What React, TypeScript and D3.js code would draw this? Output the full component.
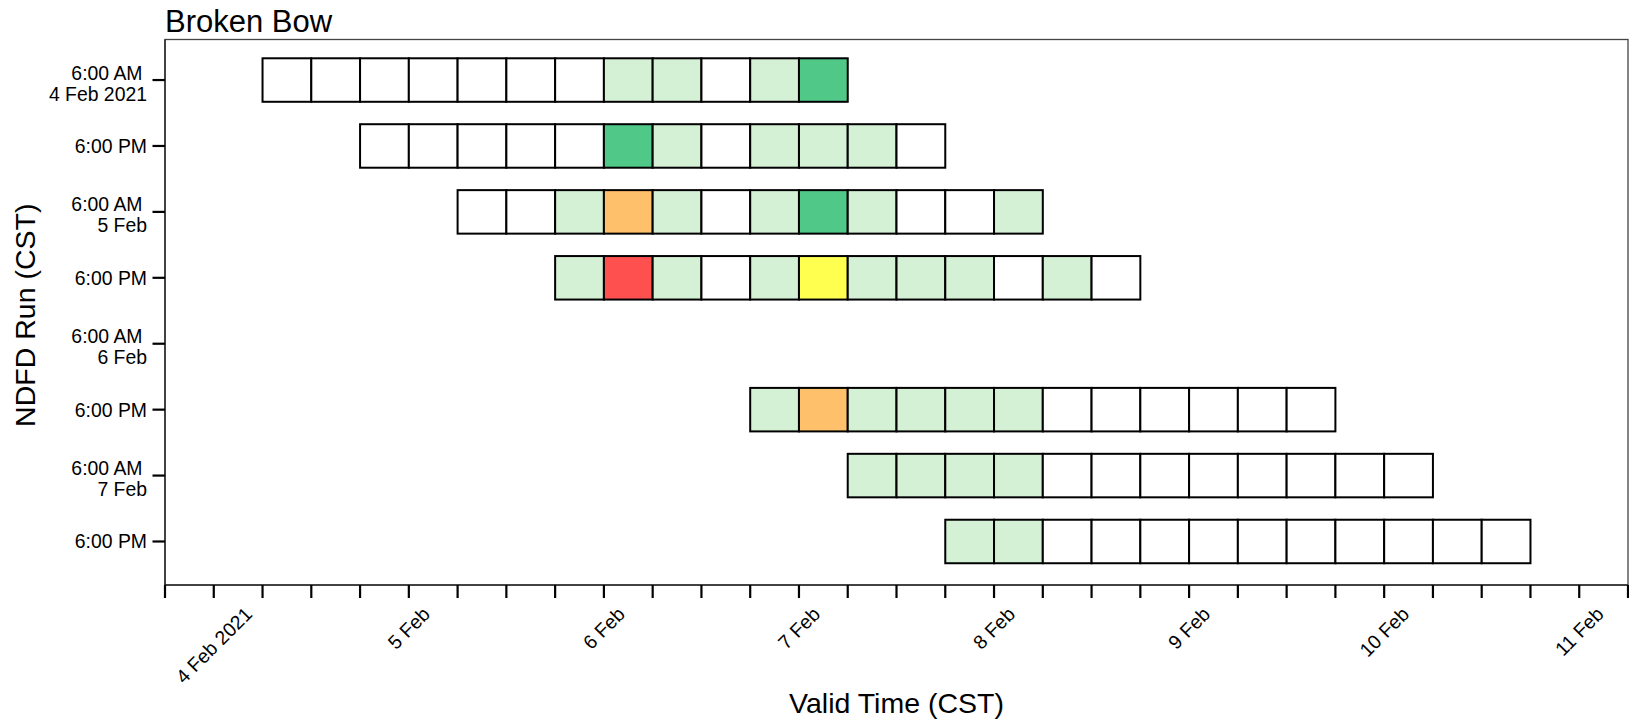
import React from "react";
import * as d3 from "d3";

const title = "Broken Bow";
const xTitle = "Valid Time (CST)";
const yTitle = "NDFD Run (CST)";

const runTimes = [
  "2021-02-04 06:00",
  "2021-02-04 18:00",
  "2021-02-05 06:00",
  "2021-02-05 18:00",
  "2021-02-06 06:00",
  "2021-02-06 18:00",
  "2021-02-07 06:00",
  "2021-02-07 18:00",
];
const runLabels = [
  ["6:00 AM", "4 Feb 2021"],
  ["6:00 PM"],
  ["6:00 AM", "5 Feb"],
  ["6:00 PM"],
  ["6:00 AM", "6 Feb"],
  ["6:00 PM"],
  ["6:00 AM", "7 Feb"],
  ["6:00 PM"],
];
// category per 6-hour valid period, beginning at the run time
// 0 none, 1 light green, 2 green, 3 yellow, 4 orange, 5 red
const run0 = [0, 0, 0, 0, 0, 0, 0, 1, 1, 0, 1, 2];
const run1 = [0, 0, 0, 0, 0, 2, 1, 0, 1, 1, 1, 0];
const run2 = [0, 0, 1, 4, 1, 0, 1, 2, 1, 0, 0, 1];
const run3 = [1, 5, 1, 0, 1, 3, 1, 1, 1, 0, 1, 0];
const run4: number[] = [];
const run5 = [1, 4, 1, 1, 1, 1, 0, 0, 0, 0, 0, 0];
const run6 = [1, 1, 1, 1, 0, 0, 0, 0, 0, 0, 0, 0];
const run7 = [1, 1, 0, 0, 0, 0, 0, 0, 0, 0, 0, 0];
const runCategories = [run0, run1, run2, run3, run4, run5, run6, run7];

const categoryColors = ["#ffffff", "#d4f0d5", "#50c887", "#ffff4f", "#ffc06b", "#ff5050"];

const xDomain = ["2021-02-03 18:00", "2021-02-11 06:00"];
const xTickLabelDates = [
  "2021-02-04 00:00",
  "2021-02-05 00:00",
  "2021-02-06 00:00",
  "2021-02-07 00:00",
  "2021-02-08 00:00",
  "2021-02-09 00:00",
  "2021-02-10 00:00",
  "2021-02-11 00:00",
];
const xTickLabels = ["4 Feb 2021", "5 Feb", "6 Feb", "7 Feb", "8 Feb", "9 Feb", "10 Feb", "11 Feb"];

const parse = d3.timeParse("%Y-%m-%d %H:%M");
const FONT = "'Liberation Sans', Arial, Helvetica, sans-serif";

let measureCtx: CanvasRenderingContext2D | null = null;
function measure(text: string, size: number) {
  if (!measureCtx) {
    const c = document.createElement("canvas");
    measureCtx = c.getContext("2d");
  }
  if (!measureCtx) return text.length * size * 0.55;
  measureCtx.font = `${size}px ${FONT}`;
  return measureCtx.measureText(text).width;
}

export default function App() {
  const W = 1629;
  const H = 725;
  const left = 165;
  const right = 1628;
  const top = 39.5;
  const bottom = 585;

  const x = d3
    .scaleTime()
    .domain(xDomain.map((d) => parse(d) as Date))
    .range([left, right]);
  const y = d3.scaleLinear().domain([-0.615, 7.66]).range([top, bottom]);

  const runs = runTimes.map((d) => parse(d) as Date);
  const ticks = d3.timeHour.every(6)!.range(x.domain()[0], d3.timeHour.offset(x.domain()[1], 1));

  const boxH = 43.5;
  const fs = 19.4;

  return (
    <svg
      width={W}
      height={H}
      style={{ position: "absolute", left: 0, top: 0, background: "#fff" }}
      fontFamily={FONT}
    >
      <text x={165} y={32} fontSize={31} fill="#000">
        {title}
      </text>
      {/* frame */}
      <rect x={left} y={top} width={right - left} height={bottom - top} fill="none" stroke="#444" strokeWidth={1.3} />
      <line x1={left} x2={left} y1={top} y2={bottom} stroke="#000" strokeWidth={1} />
      <line x1={left} x2={right} y1={bottom} y2={bottom} stroke="#000" strokeWidth={1} />

      {/* boxes */}
      {runs.map((r, i) => (
        <g key={i}>
          {runCategories[i].map((c, j) => {
            const t0 = d3.timeHour.offset(r, 6 * j);
            const t1 = d3.timeHour.offset(r, 6 * (j + 1));
            return (
              <rect
                key={j}
                x={x(t0)}
                y={y(i) - boxH / 2}
                width={x(t1) - x(t0)}
                height={boxH}
                fill={categoryColors[c]}
                stroke="#000"
                strokeWidth={2}
              />
            );
          })}
        </g>
      ))}

      {/* y axis */}
      {runs.map((r, i) => {
        const yy = y(i);
        const lines = runLabels[i];
        return (
          <g key={i}>
            <line x1={left - 12.5} x2={left} y1={yy} y2={yy} stroke="#000" strokeWidth={2.2} />
            {lines.length === 1 ? (
              <text x={147} y={yy + 7} fontSize={fs} textAnchor="end" fill="#000">
                {lines[0]}
              </text>
            ) : (
              <>
                <text x={142.5} y={yy - 0.5} fontSize={fs} textAnchor="end" fill="#000">
                  {lines[0]}
                </text>
                <text x={147} y={yy + 20.5} fontSize={fs} textAnchor="end" fill="#000">
                  {lines[1]}
                </text>
              </>
            )}
          </g>
        );
      })}

      {/* x axis */}
      {ticks.map((t, i) => (
        <line key={i} x1={x(t)} x2={x(t)} y1={bottom} y2={bottom + 13} stroke="#000" strokeWidth={2.2} />
      ))}
      {xTickLabelDates.map((d, i) => {
        const xx = x(parse(d) as Date);
        const L = measure(xTickLabels[i], fs);
        const cy = 610.6 + 0.3536 * L;
        return (
          <text
            key={i}
            transform={`translate(${xx},${cy}) rotate(-45)`}
            fontSize={fs}
            textAnchor="middle"
            dy="0.35em"
            fill="#000"
          >
            {xTickLabels[i]}
          </text>
        );
      })}

      <text x={(left + right) / 2} y={713} fontSize={28.5} textAnchor="middle" fill="#000">
        {xTitle}
      </text>
      <text transform={`translate(35,${(top + bottom) / 2 + 3}) rotate(-90)`} fontSize={28.5} textAnchor="middle" fill="#000">
        {yTitle}
      </text>
    </svg>
  );
}
